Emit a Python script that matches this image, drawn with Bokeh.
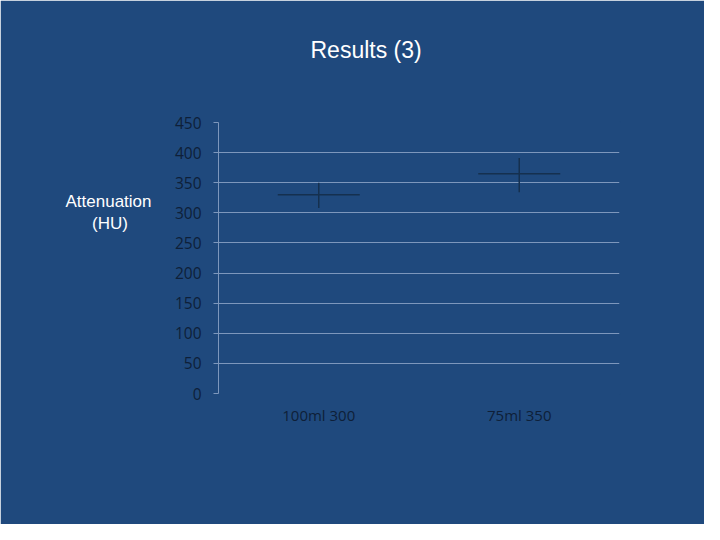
from bokeh.plotting import figure
from bokeh.models import FixedTicker, Title, LinearAxis
from bokeh.embed import file_html
from bokeh.resources import INLINE

groups = ["100ml 300", "75ml 350"]
means = [330, 365]
upper = [350, 391]
lower = [308, 334]
y_ticks = [0, 50, 100, 150, 200, 250, 300, 350, 400, 450]

bg = "#1F497D"
grid = "#7D97BC"
dark = "#0E1F38"
mark = "#15304F"

p = figure(x_range=groups, y_range=(0, 450), width=704, height=524,
           min_border_left=218, min_border_right=85, min_border_top=121, min_border_bottom=131,
           output_backend="svg", toolbar_location=None)
p.background_fill_color = bg
p.border_fill_color = bg
# covers the light seam between frame and border fills
p.outline_line_color = bg
p.outline_line_width = 3

# error bars: vertical range plus horizontal mean mark
p.segment(x0=groups, y0=lower, x1=groups, y1=upper, line_color=mark, line_width=1.5)
p.scatter(x=groups, y=means, marker="dash", size=82, line_color=mark, line_width=1.5)

p.yaxis.ticker = FixedTicker(ticks=y_ticks)
p.yaxis.axis_line_color = grid
p.yaxis.major_tick_line_color = grid
p.yaxis.major_tick_out = 5
p.yaxis.major_tick_in = 0
p.yaxis.minor_tick_line_color = None
p.yaxis.major_label_standoff = 12
p.yaxis.major_label_text_color = dark
p.yaxis.major_label_text_font = "Open Sans"
p.yaxis.major_label_text_font_size = "15.5px"

p.xaxis.axis_line_color = None
p.xaxis.major_tick_line_color = None
p.xaxis.major_label_standoff = 5
p.xaxis.major_label_text_color = dark
p.xaxis.major_label_text_font = "Open Sans"
p.xaxis.major_label_text_font_size = "15px"

p.xgrid.grid_line_color = None
p.ygrid.ticker = FixedTicker(ticks=y_ticks[1:-1])
p.ygrid.grid_line_color = grid

# axis title beside the upper part of the axis: empty trailing lines lift it above centre
ylab = LinearAxis(ticker=FixedTicker(ticks=[]),
                  axis_line_color=None, major_tick_line_color=None, minor_tick_line_color=None,
                  axis_label="Attenuation\n(HU)\u00a0\u00a0\u00a0\u00a0\u00a0\n \n \n \n ",
                  axis_label_orientation="horizontal", axis_label_standoff=20,
                  axis_label_text_color="white", axis_label_text_font="Liberation Sans",
                  axis_label_text_font_size="17px", axis_label_text_font_style="normal")
p.add_layout(ylab, "left")

p.add_layout(Title(text="Results (3)\n\u00a0", align="left", offset=92, standoff=68,
                   text_color="white", text_font="Liberation Sans", text_font_size="23px",
                   text_font_style="normal"), "above")

open("out.html", "w").write(file_html(p, INLINE))
